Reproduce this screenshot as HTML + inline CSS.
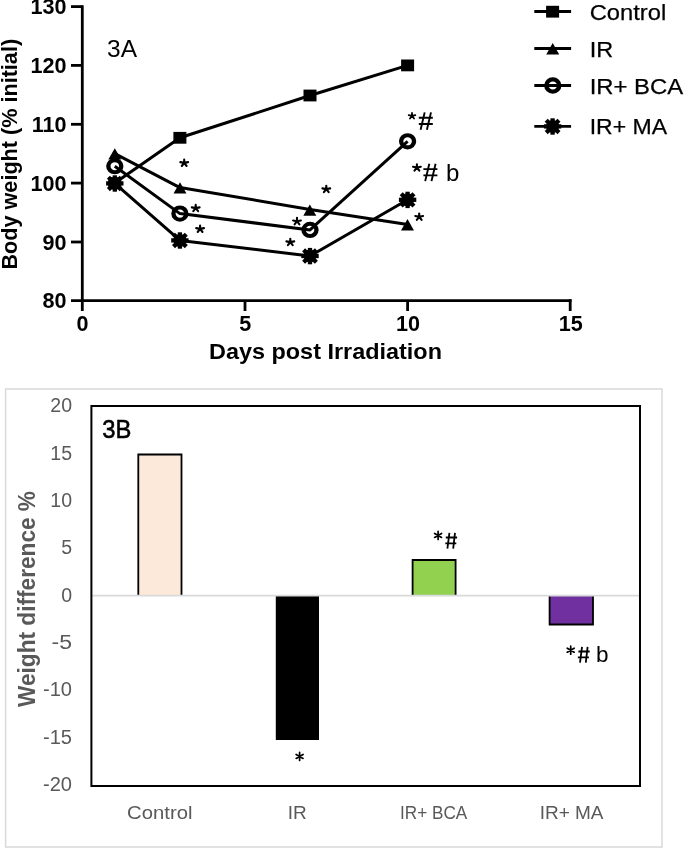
<!DOCTYPE html>
<html><head><meta charset="utf-8"><title>Body weight chart</title>
<style>
html,body{margin:0;padding:0;background:#fff;}
svg{display:block;will-change:transform;}
text{font-family:"Liberation Sans",sans-serif;}
</style></head>
<body>
<svg width="685" height="848" viewBox="0 0 685 848">
<defs>
  <g id="sq"><rect x="-6.5" y="-5.9" width="13" height="11.8" fill="#000"/></g>
  <g id="tri"><path d="M0,-5.9 L6.5,5.5 L-6.5,5.5 Z" fill="#000"/></g>
  <g id="cir"><circle r="6.1" fill="none" stroke="#000" stroke-width="4.1" transform="scale(1.06,1)"/></g>
  <g id="ast">
    <circle r="6.5" fill="#000"/>
    <g stroke="#000" stroke-width="4.3">
      <line x1="0" y1="-8.1" x2="0" y2="8.3"/>
      <line x1="-8.7" y1="0" x2="8.7" y2="0"/>
      <line x1="-6.4" y1="-6.1" x2="6.4" y2="6.2"/>
      <line x1="-6.4" y1="6.2" x2="6.4" y2="-6.1"/>
    </g>
  </g>
  <path id="s5" d="M0,0 L0,-3.3 M0,0 L3.9,-0.75 M0,0 L2.4,3.1 M0,0 L-2.4,3.1 M0,0 L-3.9,-0.75" fill="none" stroke="#000" stroke-width="2.1" stroke-linecap="round"/>
  <path id="s6" d="M0,-4 L0,4 M-3.46,-2 L3.46,2 M-3.46,2 L3.46,-2" fill="none" stroke="#000" stroke-width="1.7" stroke-linecap="round"/>
  <path id="hA" d="M5.9,0 L1.8,17.3 M12.2,0 L8.1,17.3 M0,5.3 L14,5.3 M0,11.6 L14,11.6" fill="none" stroke="#000" stroke-width="1.9"/>
  <path id="hB" d="M4.1,0 L2.1,15.8 M9.7,0 L7.9,15.8 M0.5,4.6 L11.8,4.6 M0,10.4 L11,10.4" fill="none" stroke="#000" stroke-width="1.8"/>
</defs>

<!-- ============ 3A ============ -->
<g id="chartA">
  <!-- axes -->
  <g stroke="#000" stroke-width="2.8" fill="none">
    <line x1="82.3" y1="5.2" x2="82.3" y2="311"/>
    <line x1="71" y1="300.6" x2="571.5" y2="300.6"/>
    <!-- y ticks -->
    <line x1="71" y1="6.6" x2="82.3" y2="6.6"/>
    <line x1="71" y1="65.4" x2="82.3" y2="65.4"/>
    <line x1="71" y1="124.3" x2="82.3" y2="124.3"/>
    <line x1="71" y1="183.1" x2="82.3" y2="183.1"/>
    <line x1="71" y1="242" x2="82.3" y2="242"/>
    <!-- x ticks -->
    <line x1="245" y1="300.6" x2="245" y2="311"/>
    <line x1="407.6" y1="300.6" x2="407.6" y2="311"/>
    <line x1="570.2" y1="299.2" x2="570.2" y2="311"/>
  </g>
  <g font-weight="bold" font-size="21.6" text-anchor="end" fill="#000">
    <text x="66.5" y="14.1">130</text>
    <text x="66.5" y="73">120</text>
    <text x="66.5" y="131.8">110</text>
    <text x="66.5" y="190.6">100</text>
    <text x="66.5" y="249.5">90</text>
    <text x="66.5" y="308.3">80</text>
  </g>
  <g font-weight="bold" font-size="21.6" text-anchor="middle" fill="#000">
    <text x="82.5" y="331">0</text>
    <text x="245.3" y="331">5</text>
    <text x="408" y="331">10</text>
    <text x="570.8" y="331">15</text>
  </g>
  <text x="209" y="359" font-weight="bold" font-size="21.4" textLength="233" lengthAdjust="spacingAndGlyphs">Days post Irradiation</text>
  <text transform="translate(17,269.5) rotate(-90)" font-weight="bold" font-size="21.4" textLength="230.6" lengthAdjust="spacingAndGlyphs">Body weight (% initial)</text>
  <text x="107" y="56.5" font-size="24.5">3A</text>

  <!-- lines -->
  <g stroke="#000" stroke-width="3" fill="none" stroke-linejoin="round">
    <polyline points="114.8,183.1 179.9,137.8 310,95.5 407.6,65.4"/>
    <polyline points="114.8,153.6 179.9,187.6 310,209.4 407.6,224.4"/>
    <polyline points="114.8,166.2 179.9,213.6 310,229.9 407.6,141.3"/>
    <polyline points="114.8,183.4 179.9,240.4 310,256 407.6,199.8"/>
  </g>
  <!-- markers -->
  <use href="#sq" x="114.8" y="183.1"/>
  <use href="#sq" x="179.9" y="137.8"/>
  <use href="#sq" x="310" y="95.5"/>
  <use href="#sq" x="407.6" y="65.4"/>
  <use href="#tri" x="114.8" y="154.1"/>
  <use href="#tri" x="180" y="188.1"/>
  <use href="#tri" x="309.8" y="210.3"/>
  <use href="#tri" x="407.5" y="225"/>
  <use href="#cir" x="114.8" y="166.2"/>
  <use href="#cir" x="179.9" y="213.6"/>
  <use href="#cir" x="310" y="229.9"/>
  <use href="#cir" x="407.6" y="141.3"/>
  <use href="#ast" x="114.8" y="183.4"/>
  <use href="#ast" x="179.9" y="240.4"/>
  <use href="#ast" x="310" y="256"/>
  <use href="#ast" x="407.6" y="199.8"/>

  <!-- annotations -->
  <use href="#s5" x="184.2" y="162.9"/>
  <use href="#s5" x="195.7" y="208.1"/>
  <use href="#s5" x="200.1" y="228.9"/>
  <use href="#s5" x="326.3" y="189.1"/>
  <use href="#s5" x="297" y="221.2"/>
  <use href="#s5" x="290.3" y="242.1"/>
  <use href="#s5" x="419.2" y="216.8"/>
  <use href="#s5" transform="translate(412,115.8) scale(0.85)"/>
  <use href="#s5" x="416.9" y="167.5"/>
  <use href="#hA" x="418.8" y="112.4"/>
  <use href="#hA" x="423.4" y="163.8"/>
  <text x="446" y="180.8" font-size="24" fill="#000">b</text>

  <!-- legend -->
  <g stroke="#000" stroke-width="2.8">
    <line x1="534.3" y1="11.5" x2="571.1" y2="11.5"/>
    <line x1="534.3" y1="48.5" x2="571.1" y2="48.5"/>
    <line x1="534.3" y1="85.5" x2="571.1" y2="85.5"/>
    <line x1="534.3" y1="126.4" x2="571.1" y2="126.4"/>
  </g>
  <use href="#sq" x="552.6" y="11.7"/>
  <use href="#tri" x="552.7" y="48.9"/>
  <use href="#cir" x="552.8" y="85.5"/>
  <use href="#ast" x="552.6" y="126.4"/>
  <g font-size="22.8" fill="#000" stroke="#000" stroke-width="0.25">
    <text x="589.7" y="20.2" textLength="76.5" lengthAdjust="spacingAndGlyphs">Control</text>
    <text x="589.7" y="56.7" textLength="23.5" lengthAdjust="spacingAndGlyphs">IR</text>
    <text x="589.7" y="94" textLength="93.5" lengthAdjust="spacingAndGlyphs">IR+ BCA</text>
    <text x="589.7" y="134.3" textLength="77.5" lengthAdjust="spacingAndGlyphs">IR+ MA</text>
  </g>
</g>

<!-- ============ 3B ============ -->
<g id="chartB">
  <rect x="5.6" y="389" width="656.4" height="458" fill="none" stroke="#d9d9d9" stroke-width="1.5"/>
  <!-- bars -->
  <rect x="138.3" y="454.5" width="43.2" height="141" fill="#fde9da"/>
  <path d="M138.3,595.5 V454.5 H181.5 V595.5" fill="none" stroke="#000" stroke-width="1.8"/>
  <rect x="275.8" y="595.5" width="43.2" height="144.5" fill="#000"/>
  <rect x="412.6" y="560" width="43" height="35.5" fill="#92d050"/>
  <path d="M412.6,595.5 V560 H455.6 V595.5" fill="none" stroke="#000" stroke-width="1.8"/>
  <rect x="549.6" y="595.5" width="43.4" height="29" fill="#7030a0"/>
  <path d="M549.6,595.5 V624.5 H593 V595.5" fill="none" stroke="#000" stroke-width="1.8"/>
  <line x1="91.4" y1="595.6" x2="640" y2="595.6" stroke="#d9d9d9" stroke-width="1.6"/>
  <!-- plot box -->
  <rect x="91.4" y="406" width="548.6" height="380" fill="none" stroke="#000" stroke-width="2"/>
  <g font-size="19.5" fill="#595959" text-anchor="end" lengthAdjust="spacingAndGlyphs">
    <text x="72" y="412.4" lengthAdjust="spacingAndGlyphs">20</text>
    <text x="72" y="459.7" lengthAdjust="spacingAndGlyphs">15</text>
    <text x="72" y="507.0" lengthAdjust="spacingAndGlyphs">10</text>
    <text x="72" y="554.3" lengthAdjust="spacingAndGlyphs">5</text>
    <text x="72" y="601.6" lengthAdjust="spacingAndGlyphs">0</text>
    <text x="72" y="649.0" textLength="20.5" lengthAdjust="spacingAndGlyphs">-5</text>
    <text x="72" y="696.3" textLength="29" lengthAdjust="spacingAndGlyphs">-10</text>
    <text x="72" y="743.6" textLength="29" lengthAdjust="spacingAndGlyphs">-15</text>
    <text x="72" y="790.9" textLength="29" lengthAdjust="spacingAndGlyphs">-20</text>
  </g>
  <g font-size="19" fill="#595959" text-anchor="middle">
    <text x="159.8" y="818.5" textLength="65.4" lengthAdjust="spacingAndGlyphs">Control</text>
    <text x="297.3" y="818.5">IR</text>
    <text x="433.7" y="818.5" textLength="67.2" lengthAdjust="spacingAndGlyphs">IR+ BCA</text>
    <text x="571.6" y="818.5">IR+ MA</text>
  </g>
  <text transform="translate(34.7,707) rotate(-90)" font-size="24.2" font-weight="bold" fill="#595959" textLength="216" lengthAdjust="spacingAndGlyphs">Weight difference %</text>
  <text x="102.2" y="438" font-size="25" stroke="#000" stroke-width="0.55" textLength="29.1" lengthAdjust="spacingAndGlyphs">3B</text>
  <use href="#s6" x="299.6" y="756.4"/>
  <use href="#s6" x="438.1" y="535.4"/>
  <use href="#s6" x="570.7" y="650.2"/>
  <use href="#hB" x="445.3" y="532.9"/>
  <use href="#hB" x="577.9" y="646.9"/>
  <text x="596" y="662.3" font-size="22.5" fill="#000">b</text>
</g>
</svg>
</body></html>
